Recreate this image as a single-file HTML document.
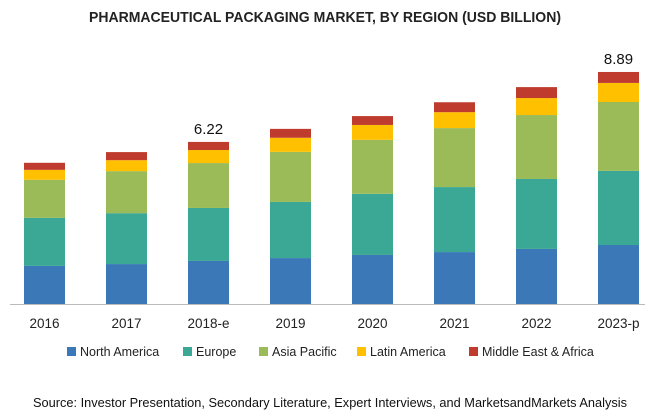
<!DOCTYPE html>
<html><head><meta charset="utf-8"><style>
body{margin:0;background:#fff;font-family:"Liberation Sans Narrow","Liberation Sans",sans-serif;}
svg{display:block}
</style></head><body>
<svg id="chart" width="650" height="415">
<text x="325" y="22" text-anchor="middle" font-size="15" font-weight="bold" fill="#222" textLength="472" lengthAdjust="spacingAndGlyphs">PHARMACEUTICAL PACKAGING MARKET, BY REGION (USD BILLION)</text>
<g id="bars"></g>
<line x1="10" x2="645" y1="304.5" y2="304.5" stroke="#bbb"/>
<g id="xlabels"></g>
<g id="legend"></g>
<text x="330" y="407" text-anchor="middle" font-size="13" fill="#111" textLength="594" lengthAdjust="spacingAndGlyphs">Source: Investor Presentation, Secondary Literature, Expert Interviews, and MarketsandMarkets Analysis</text>
</svg>
<script>
const categories = ["2016","2017","2018-e","2019","2020","2021","2022","2023-p"];
const seriesNames = ["North America","Europe","Asia Pacific","Latin America","Middle East & Africa"];
const northAmerica = [1.46,1.53,1.65,1.76,1.88,1.99,2.11,2.26];
const europe = [1.84,1.95,2.03,2.15,2.34,2.49,2.68,2.84];
const asiaPacific = [1.46,1.61,1.72,1.92,2.07,2.26,2.45,2.64];
const latinAmerica = [0.38,0.42,0.50,0.54,0.57,0.61,0.65,0.73];
const middleEastAfrica = [0.27,0.31,0.31,0.34,0.34,0.38,0.42,0.42];
const labeledTotals = {"2018-e":"6.22","2023-p":"8.89"};

const colors = ["#3b78b7","#3aa894","#9bbb59","#ffc000","#be3b2e"];
const series = [northAmerica,europe,asiaPacific,latinAmerica,middleEastAfrica];
const base = 304, pxPerUnit = 26.1, x0 = 24, step = 82, bw = 41;
const yScale = v => base - v * pxPerUnit;
const xScale = i => x0 + i * step;
const NS = "http://www.w3.org/2000/svg";
const bars = document.getElementById("bars");
const xl = document.getElementById("xlabels");
categories.forEach((c, i) => {
  let cum = 0;
  series.forEach((s, k) => {
    const r = document.createElementNS(NS, "rect");
    const y1 = yScale(cum + s[i]), y0 = yScale(cum);
    r.setAttribute("x", xScale(i));
    r.setAttribute("y", y1);
    r.setAttribute("width", bw);
    r.setAttribute("height", y0 - y1);
    r.setAttribute("fill", colors[k]);
    
    
    bars.appendChild(r);
    cum += s[i];
  });
  if (labeledTotals[c]) {
    const t = document.createElementNS(NS, "text");
    t.setAttribute("x", xScale(i) + bw / 2);
    t.setAttribute("y", yScale(cum) - 8);
    t.setAttribute("text-anchor", "middle");
    t.setAttribute("font-size", "15");
    t.setAttribute("fill", "#111");
    t.textContent = labeledTotals[c];
    
    
    bars.appendChild(t);
  }
  const t = document.createElementNS(NS, "text");
  t.setAttribute("x", xScale(i) + bw / 2);
  t.setAttribute("y", 328);
  t.setAttribute("text-anchor", "middle");
  t.setAttribute("font-size", "13.5");
  t.setAttribute("fill", "#222");
  t.textContent = c;
  
  
  xl.appendChild(t);
});
const lg = document.getElementById("legend");
const legendX = [67, 183, 259, 357, 469];
seriesNames.forEach((n, k) => {
  const g = document.createElementNS(NS, "g");
  
  
  const r = document.createElementNS(NS, "rect");
  r.setAttribute("x", legendX[k]); r.setAttribute("y", 347);
  r.setAttribute("width", 9); r.setAttribute("height", 9);
  r.setAttribute("fill", colors[k]);
  
  
  const t = document.createElementNS(NS, "text");
  t.setAttribute("x", legendX[k] + 13); t.setAttribute("y", 356);
  t.setAttribute("font-size", "12.5"); t.setAttribute("fill", "#222");
  t.textContent = n;
  
  
  g.appendChild(r); g.appendChild(t); lg.appendChild(g);
});
</script>
</body></html>
